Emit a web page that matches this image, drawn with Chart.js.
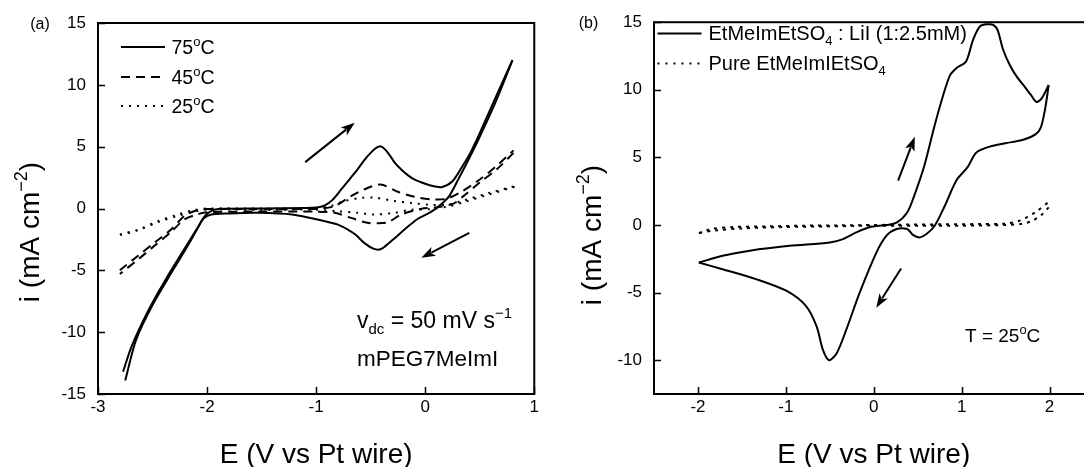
<!DOCTYPE html>
<html>
<head>
<meta charset="utf-8">
<script src="https://cdn.jsdelivr.net/npm/chart.js@4.4.1/dist/chart.umd.min.js"></script>
<style>
  html, body { margin: 0; padding: 0; background: #fff; width: 1084px; height: 467px; overflow: hidden; }
  .panel { position: absolute; top: 0; }
  #panelA { left: 0; width: 542px; height: 467px; }
  #panelB { left: 542px; width: 560px; height: 467px; }
</style>
</head>
<body>
<div class="panel" id="panelA"><canvas id="cvA" width="542" height="467"></canvas></div>
<div class="panel" id="panelB"><canvas id="cvB" width="560" height="467"></canvas></div>
<script>
// ---------- Panel (a): mPEG7MeImI, cyclic voltammograms at three temperatures ----------
// Potential E (V vs Pt wire) and current density i (mA cm^-2), anodic sweep then cathodic sweep
const a75FwdE = [-2.77, -2.69, -2.53, -2.37, -2.21, -2.09, -2.02, -1.95, -1.85, -1.5, -1.1, -0.98, -0.92, -0.85, -0.77, -0.69, -0.62, -0.56, -0.50, -0.45, -0.41, -0.37, -0.32, -0.27, -0.22, -0.16, -0.10, 0.0, 0.08, 0.15, 0.25, 0.34, 0.42, 0.50, 0.65, 0.80];
const a75FwdI = [-13.2, -11.1, -8.1, -5.6, -3.3, -1.6, -0.6, -0.15, -0.03, 0.0, 0.04, 0.1, 0.25, 0.7, 1.54, 2.4, 3.16, 3.9, 4.5, 4.9, 5.04, 4.8, 4.23, 3.6, 3.16, 2.7, 2.35, 2.0, 1.8, 1.72, 2.2, 3.4, 4.6, 6.1, 9.06, 12.0];
const a75RevE = [0.80, 0.65, 0.50, 0.40, 0.30, 0.22, 0.14, 0.05, -0.07, -0.19, -0.28, -0.36, -0.41, -0.47, -0.56, -0.64, -0.71, -0.80, -0.92, -1.22, -1.53, -1.80, -1.97, -2.03, -2.08, -2.15, -2.30, -2.50, -2.65, -2.75];
const a75RevI = [12.0, 8.7, 5.8, 4.0, 2.3, 1.0, 0.3, -0.3, -0.85, -1.7, -2.4, -3.0, -3.3, -3.27, -2.78, -2.1, -1.7, -1.3, -1.03, -0.49, -0.35, -0.4, -0.5, -0.8, -1.5, -2.6, -4.8, -7.8, -10.6, -13.9];

const a45FwdE = [-2.80, -2.63, -2.48, -2.33, -2.21, -2.12, -2.03, -1.6, -1.2, -0.95, -0.83, -0.68, -0.56, -0.41, -0.25, -0.10, 0.08, 0.20, 0.34, 0.50, 0.65, 0.81];
const a45FwdI = [-5.0, -3.8, -2.75, -1.7, -0.62, -0.22, -0.05, -0.05, -0.05, 0.0, 0.19, 1.0, 1.54, 1.94, 1.35, 0.95, 0.73, 0.8, 1.4, 2.34, 3.41, 4.7];
const a45RevE = [0.81, 0.66, 0.50, 0.35, 0.26, 0.11, -0.04, -0.22, -0.34, -0.44, -0.53, -0.68, -0.83, -1.0, -1.5, -2.0, -2.1, -2.21, -2.33, -2.48, -2.63, -2.80];
const a45RevI = [4.5, 3.2, 2.1, 1.0, 0.4, 0.1, -0.03, -0.49, -1.1, -1.2, -1.16, -0.76, -0.35, -0.25, -0.25, -0.3, -0.5, -0.9, -1.9, -3.0, -4.1, -5.3];

const a25FwdE = [-2.80, -2.63, -2.45, -2.27, -2.12, -2.0, -1.5, -1.0, -0.85, -0.74, -0.59, -0.45, -0.28, -0.13, 0.05, 0.20, 0.35, 0.59, 0.82];
const a25FwdI = [-2.1, -1.7, -1.03, -0.49, -0.13, 0.0, 0.0, 0.02, 0.25, 0.6, 0.86, 0.86, 0.6, 0.45, 0.3, 0.3, 0.65, 1.27, 1.8];
const a25RevE = [0.82, 0.59, 0.35, 0.20, 0.05, -0.13, -0.28, -0.47, -0.62, -0.80, -1.0, -1.5, -2.0, -2.12, -2.27, -2.45, -2.63, -2.80];
const a25RevI = [1.75, 1.15, 0.5, 0.15, -0.05, -0.1, -0.35, -0.49, -0.35, -0.22, -0.1, -0.1, -0.1, -0.25, -0.6, -1.1, -1.75, -2.15];

const aXTicks = [-3, -2, -1, 0, 1];
const aYTicks = [-15, -10, -5, 0, 5, 10, 15];

// ---------- Panel (b): EtMeImEtSO4 with LiI vs the pure liquid, 25 °C ----------
const bLiFwdE = [-1.99, -1.72, -1.41, -0.96, -0.50, -0.35, -0.20, -0.05, 0.14, 0.26, 0.38, 0.46, 0.576, 0.694, 0.79, 0.87, 0.94, 1.05, 1.13, 1.21, 1.30, 1.36, 1.41, 1.47, 1.55, 1.635, 1.72, 1.79, 1.85, 1.91, 1.99];
const bLiFwdI = [-2.78, -2.28, -1.9, -1.54, -1.29, -1.04, -0.55, -0.17, 0.0, 0.17, 0.92, 2.16, 4.4, 7.4, 9.6, 11.1, 11.6, 12.1, 13.7, 14.7, 14.85, 14.8, 14.4, 13.0, 11.8, 10.9, 10.2, 9.6, 9.1, 9.36, 10.35];
const bLiRevE = [1.99, 1.95, 1.90, 1.84, 1.70, 1.50, 1.32, 1.165, 1.07, 0.94, 0.81, 0.694, 0.60, 0.52, 0.45, 0.38, 0.26, 0.145, 0.03, -0.16, -0.31, -0.42, -0.51, -0.58, -0.65, -0.77, -0.99, -1.34, -1.72, -1.99];
const bLiRevI = [10.35, 8.6, 7.2, 6.7, 6.3, 6.05, 5.8, 5.35, 4.3, 3.3, 1.44, -0.05, -0.67, -0.92, -0.75, -0.3, -0.3, -0.79, -2.04, -5.0, -7.7, -9.46, -10.0, -9.2, -7.5, -6.0, -4.88, -4.0, -3.27, -2.78];

const bPureFwdE = [-1.99, -1.85, -1.6, -1.2, -0.8, -0.4, 0.0, 0.4, 0.8, 1.2, 1.5, 1.65, 1.75, 1.85, 1.99];
const bPureFwdI = [-0.6, -0.3, -0.15, -0.1, -0.05, -0.03, 0.0, 0.03, 0.05, 0.07, 0.1, 0.3, 0.6, 1.0, 1.7];
const bPureRevE = [1.99, 1.9, 1.8, 1.7, 1.5, 1.0, 0.5, 0.0, -0.5, -1.0, -1.5, -1.8, -1.99];
const bPureRevI = [1.3, 0.7, 0.3, 0.1, 0.0, -0.05, -0.05, -0.05, -0.1, -0.15, -0.25, -0.4, -0.6];

const bXTicks = [-2, -1, 0, 1, 2];
const bYTicks = [-10, -5, 0, 5, 10, 15];

// ---------- helpers ----------
const FAMILY = '"Liberation Sans", Arial, Helvetica, sans-serif';
const pts = (E, I) => E.map((e, k) => ({ x: e, y: I[k] }));

function trace(E, I, dash) {
  return {
    data: pts(E, I), showLine: true, borderColor: '#000', backgroundColor: '#000',
    borderWidth: 2, borderDash: dash, pointRadius: 0, pointHoverRadius: 0,
    tension: 0.3, fill: false
  };
}

function fontFor(kind, size) {
  const s = kind ? Math.round(size * 0.66) : size;
  return s + 'px ' + FAMILY;
}

// parts: [[text, kind]] with kind '' | 'sup' | 'sub'
function drawRich(ctx, x, y, parts, size, align) {
  ctx.textAlign = 'left';
  ctx.textBaseline = 'alphabetic';
  let total = 0;
  for (const p of parts) { ctx.font = fontFor(p[1], size); total += ctx.measureText(p[0]).width; }
  let cx = align === 'center' ? x - total / 2 : align === 'right' ? x - total : x;
  for (const p of parts) {
    ctx.font = fontFor(p[1], size);
    const dy = p[1] === 'sup' ? -0.42 * size : p[1] === 'sub' ? 0.24 * size : 0;
    ctx.fillText(p[0], cx, y + dy);
    cx += ctx.measureText(p[0]).width;
  }
}

function arrow(ctx, x0, y0, x1, y1) {
  const ang = Math.atan2(y1 - y0, x1 - x0);
  const L = 14, W = 5;
  ctx.save();
  ctx.strokeStyle = '#000'; ctx.fillStyle = '#000'; ctx.lineWidth = 2; ctx.setLineDash([]);
  ctx.beginPath();
  ctx.moveTo(x0, y0);
  ctx.lineTo(x1 - Math.cos(ang) * L * 0.8, y1 - Math.sin(ang) * L * 0.8);
  ctx.stroke();
  ctx.beginPath();
  ctx.moveTo(x1, y1);
  ctx.lineTo(x1 - Math.cos(ang) * L - Math.sin(ang) * W, y1 - Math.sin(ang) * L + Math.cos(ang) * W);
  ctx.lineTo(x1 - Math.cos(ang) * L * 0.75, y1 - Math.sin(ang) * L * 0.75);
  ctx.lineTo(x1 - Math.cos(ang) * L + Math.sin(ang) * W, y1 - Math.sin(ang) * L - Math.cos(ang) * W);
  ctx.closePath();
  ctx.fill();
  ctx.restore();
}

function legendLine(ctx, x0, x1, y, dash) {
  ctx.save();
  ctx.strokeStyle = '#000'; ctx.lineWidth = 2; ctx.setLineDash(dash);
  ctx.beginPath(); ctx.moveTo(x0, y); ctx.lineTo(x1, y); ctx.stroke();
  ctx.restore();
}

// frame around the plot area plus inward tick marks
function drawFrame(chart) {
  const { ctx, chartArea: a, scales } = chart;
  ctx.save();
  ctx.strokeStyle = '#000'; ctx.setLineDash([]);
  ctx.lineWidth = 2;
  ctx.strokeRect(a.left, a.top, a.right - a.left, a.bottom - a.top);
  ctx.lineWidth = 1.5;
  ctx.beginPath();
  for (const t of scales.x.ticks) {
    const px = Math.round(scales.x.getPixelForValue(t.value)) + 0.5;
    ctx.moveTo(px, a.bottom); ctx.lineTo(px, a.bottom - 7);
  }
  for (const t of scales.y.ticks) {
    const py = Math.round(scales.y.getPixelForValue(t.value)) + 0.5;
    ctx.moveTo(a.left, py); ctx.lineTo(a.left + 7, py);
  }
  ctx.stroke();
  ctx.restore();
}

function axisTitles(ctx, xTitleX, yTitleX, yTitleY) {
  ctx.save();
  ctx.fillStyle = '#000';
  drawRich(ctx, xTitleX, 463, [['E (V vs Pt wire)', '']], 28, 'center');
  ctx.translate(yTitleX, yTitleY);
  ctx.rotate(-Math.PI / 2);
  drawRich(ctx, 0, 0, [['i (mA cm', ''], ['\u22122', 'sup'], [')', '']], 28, 'center');
  ctx.restore();
}

function scalesFor(xMin, xMax, xTicks, yMin, yMax, yTicks, yWidth) {
  const tickFont = { family: FAMILY, size: 17 };
  return {
    x: {
      type: 'linear', min: xMin, max: xMax,
      afterBuildTicks: s => { s.ticks = xTicks.map(v => ({ value: v })); },
      afterFit: s => { s.height = 73; },
      grid: { display: false, drawTicks: false }, border: { display: false },
      ticks: { color: '#000', font: tickFont, padding: 3, maxRotation: 0, autoSkip: false, callback: v => String(v) }
    },
    y: {
      type: 'linear', min: yMin, max: yMax,
      afterBuildTicks: s => { s.ticks = yTicks.map(v => ({ value: v })); },
      afterFit: s => { s.width = yWidth; },
      grid: { display: false, drawTicks: false }, border: { display: false },
      ticks: { color: '#000', font: tickFont, padding: 12, autoSkip: false, callback: v => String(v) }
    }
  };
}

const common = {
  responsive: false, animation: false, devicePixelRatio: 1,
  plugins: { legend: { display: false }, tooltip: { enabled: false } },
  events: []
};

// ---------- panel (a) ----------
const decorA = {
  id: 'decorA',
  afterDraw(chart) {
    const ctx = chart.ctx;
    const { x, y } = chart.scales;
    drawFrame(chart);
    ctx.save();
    ctx.fillStyle = '#000';
    // legend
    const rows = [[47, [], '75'], [77, [9, 6], '45'], [106, [2, 6], '25']];
    for (const r of rows) {
      legendLine(ctx, 121, 165, r[0], r[1]);
      drawRich(ctx, 171.5, r[0] + 7, [[r[2], ''], ['o', 'sup'], ['C', '']], 19.5, 'left');
    }
    // scan-direction arrows
    arrow(ctx, x.getPixelForValue(-1.10), y.getPixelForValue(3.75), x.getPixelForValue(-0.646), y.getPixelForValue(6.94));
    arrow(ctx, x.getPixelForValue(0.404), y.getPixelForValue(-1.97), x.getPixelForValue(-0.035), y.getPixelForValue(-3.99));
    // annotations
    drawRich(ctx, 357, 328, [['v', ''], ['dc', 'sub'], [' = 50 mV s', ''], ['\u22121', 'sup']], 23, 'left');
    drawRich(ctx, 357, 366, [['mPEG7MeImI', '']], 22.5, 'left');
    drawRich(ctx, 40, 29, [['(a)', '']], 16, 'center');
    ctx.restore();
    axisTitles(ctx, (chart.chartArea.left + chart.chartArea.right) / 2, 39, 232);
  }
};

new Chart(document.getElementById('cvA'), {
  type: 'scatter',
  data: {
    datasets: [
      trace(a25FwdE, a25FwdI, [2, 6]), trace(a25RevE, a25RevI, [2, 6]),
      trace(a45FwdE, a45FwdI, [9, 6]), trace(a45RevE, a45RevI, [9, 6]),
      trace(a75FwdE, a75FwdI, []), trace(a75RevE, a75RevI, [])
    ]
  },
  options: Object.assign({}, common, {
    layout: { autoPadding: false, padding: { left: 0, top: 23, right: 4, bottom: 0 } },
    scales: scalesFor(-3, 1, aXTicks, -15, 15, aYTicks, 98)
  }),
  plugins: [decorA]
});

// ---------- panel (b) ----------
const decorB = {
  id: 'decorB',
  afterDraw(chart) {
    const ctx = chart.ctx;
    const { x, y } = chart.scales;
    drawFrame(chart);
    ctx.save();
    ctx.fillStyle = '#000';
    legendLine(ctx, 115.5, 159.5, 33.5, []);
    drawRich(ctx, 166.5, 40, [['EtMeImEtSO', ''], ['4', 'sub'], [' : LiI (1:2.5mM)', '']], 20, 'left');
    legendLine(ctx, 115.5, 159.5, 63.5, [2, 6]);
    drawRich(ctx, 166.5, 70, [['Pure EtMeImIEtSO', ''], ['4', 'sub']], 20, 'left');
    arrow(ctx, x.getPixelForValue(0.277), y.getPixelForValue(3.29), x.getPixelForValue(0.467), y.getPixelForValue(6.52));
    arrow(ctx, x.getPixelForValue(0.311), y.getPixelForValue(-3.22), x.getPixelForValue(0.028), y.getPixelForValue(-6.12));
    drawRich(ctx, 423, 342, [['T = 25', ''], ['o', 'sup'], ['C', '']], 19, 'left');
    drawRich(ctx, 46.5, 28, [['(b)', '']], 16, 'center');
    ctx.restore();
    axisTitles(ctx, x.getPixelForValue(0), 59, 235);
  }
};

new Chart(document.getElementById('cvB'), {
  type: 'scatter',
  data: {
    datasets: [
      trace(bPureFwdE, bPureFwdI, [3, 5]), trace(bPureRevE, bPureRevI, [3, 5]),
      trace(bLiFwdE, bLiFwdI, []), trace(bLiRevE, bLiRevI, [])
    ]
  },
  options: Object.assign({}, common, {
    layout: { autoPadding: false, padding: { left: 0, top: 22, right: 8.5, bottom: 0 } },
    scales: scalesFor(-2.5, 2.5, bXTicks, -12.5, 15, bYTicks, 112)
  }),
  plugins: [decorB]
});
</script>
</body>
</html>
